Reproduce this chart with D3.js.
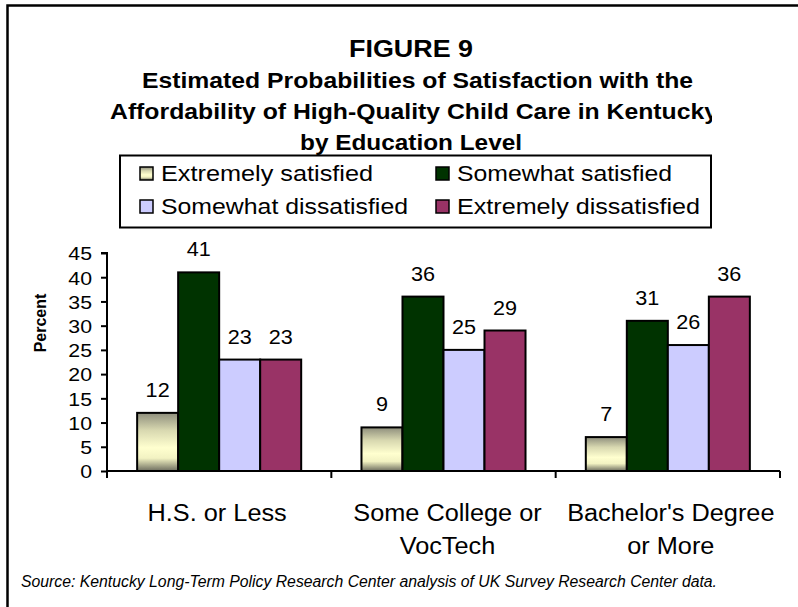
<!DOCTYPE html>
<html>
<head>
<meta charset="utf-8">
<script src="https://cdn.jsdelivr.net/npm/d3@7"></script>
<style>
  body { margin: 0; background: #fff; }
  svg { display: block; }
  text { font-family: "Liberation Sans", Arial, Helvetica, sans-serif; fill: #000; }
</style>
</head>
<body>
<svg id="chart" width="798" height="607"></svg>
<script>
// ---- data ----
const categories = ["H.S. or Less", "Some College or VocTech", "Bachelor's Degree or More"];
const categoryLines = [["H.S. or Less"], ["Some College or", "VocTech"], ["Bachelor's Degree", "or More"]];
const seriesNames = ["Extremely satisfied", "Somewhat satisfied", "Somewhat dissatisfied", "Extremely dissatisfied"];
const extremelySatisfied = [12, 9, 7];
const somewhatSatisfied = [41, 36, 31];
const somewhatDissatisfied = [23, 25, 26];
const extremelyDissatisfied = [23, 29, 36];
const yTicks = [0, 5, 10, 15, 20, 25, 30, 35, 40, 45];
const titleLines = [
  "FIGURE 9",
  "Estimated Probabilities of Satisfaction with the",
  "Affordability of High-Quality Child Care in Kentucky",
  "by Education Level"
];
const sourceNote = "Source: Kentucky Long-Term Policy Research Center analysis of UK Survey Research Center data.";

const seriesValues = [extremelySatisfied, somewhatSatisfied, somewhatDissatisfied, extremelyDissatisfied];
const seriesFill = ["url(#paleGrad)", "#003300", "#CCCCFF", "#993366"];

const svg = d3.select("#chart");
const defs = svg.append("defs");

// pale yellow bars shade to grey at top and bottom
const grad = defs.append("linearGradient").attr("id", "paleGrad")
  .attr("x1", 0).attr("y1", 0).attr("x2", 0).attr("y2", 1);
[[0, "#8e8e7c"], [0.3, "#d8d8b0"], [0.6, "#ffffcf"], [0.78, "#f2f2c2"], [1, "#6c6c5e"]]
  .forEach(([o, c]) => grad.append("stop").attr("offset", o).attr("stop-color", c));

// clip for the long title line, cut at the legend's right edge
defs.append("clipPath").attr("id", "titleClip")
  .append("rect").attr("x", 0).attr("y", 0).attr("width", 712).attr("height", 200);

// helpers: stretch a text to a given width / by a factor
function fitWidth(sel, w) {
  sel.attr("textLength", w).attr("lengthAdjust", "spacingAndGlyphs");
}
function stretch(sel, k) {
  sel.each(function () {
    const w = this.getComputedTextLength();
    d3.select(this).attr("textLength", w * k).attr("lengthAdjust", "spacingAndGlyphs");
  });
}

// ---- frame ----
svg.append("path")
  .attr("d", "M7.5,612 V5.5 H805")
  .attr("fill", "none").attr("stroke", "#000").attr("stroke-width", 2.5);

// ---- title ----
const t0 = svg.append("text").attr("x", 411).attr("y", 57).attr("text-anchor", "middle")
  .attr("font-size", 24).attr("font-weight", "bold").text(titleLines[0]);
fitWidth(t0, 124);
const t1 = svg.append("text").attr("x", 142).attr("y", 88)
  .attr("font-size", 22).attr("font-weight", "bold").text(titleLines[1]);
fitWidth(t1, 551);
const t2 = svg.append("text").attr("x", 110).attr("y", 119).attr("clip-path", "url(#titleClip)")
  .attr("font-size", 22).attr("font-weight", "bold").text(titleLines[2]);
fitWidth(t2, 608);
const t3 = svg.append("text").attr("x", 300).attr("y", 150)
  .attr("font-size", 22).attr("font-weight", "bold").text(titleLines[3]);
fitWidth(t3, 222);

// ---- scales ----
const plot = { left: 107, right: 780, top: 253, bottom: 471 };
const x0 = d3.scaleBand().domain(categories).range([plot.left, plot.right]).padding(0);
const x1 = d3.scaleBand().domain(seriesNames).range([0, x0.bandwidth()])
  .paddingInner(0).paddingOuter(0.735);
const y = d3.scaleLinear().domain([0, 45]).range([plot.bottom, plot.top]);

// ---- bars ----
const groups = svg.append("g").selectAll("g").data(categories).join("g")
  .attr("transform", d => `translate(${x0(d)},0)`);
groups.selectAll("rect")
  .data((c, ci) => seriesNames.map((s, si) => ({ s, si, v: seriesValues[si][ci] })))
  .join("rect")
  .attr("x", d => x1(d.s))
  .attr("y", d => y(d.v))
  .attr("width", x1.bandwidth())
  .attr("height", d => y(0) - y(d.v))
  .attr("fill", d => seriesFill[d.si])
  .attr("stroke", "#000").attr("stroke-width", 2);

// value labels
const vl = groups.selectAll("text.val")
  .data((c, ci) => seriesNames.map((s, si) => ({ s, si, v: seriesValues[si][ci] })))
  .join("text").attr("class", "val")
  .attr("x", d => x1(d.s) + x1.bandwidth() / 2)
  .attr("y", d => y(d.v) - 16)
  .attr("text-anchor", "middle").attr("font-size", 20)
  .text(d => d.v);
stretch(vl, 1.08);

// ---- axes ----
const yAxis = svg.append("g").attr("transform", `translate(${plot.left},0)`)
  .call(d3.axisLeft(y).tickValues(yTicks).tickSize(6).tickPadding(9));
yAxis.select(".domain").attr("stroke", "#000").attr("stroke-width", 2)
  .attr("d", `M-6,${plot.top}H0V${plot.bottom}`);
yAxis.selectAll(".tick line").attr("stroke", "#000").attr("stroke-width", 2);
yAxis.selectAll(".tick text").attr("font-size", 19).attr("font-family", "Liberation Sans, Arial, sans-serif")
  .attr("fill", "#000").attr("dy", "0.36em");
stretch(yAxis.selectAll(".tick text"), 1.12);

const xAxis = svg.append("g").attr("transform", `translate(0,${plot.bottom})`)
  .call(d3.axisBottom(x0).tickSize(0).tickFormat(""));
xAxis.select(".domain").attr("stroke", "#000").attr("stroke-width", 2)
  .attr("d", `M${plot.left},0H${plot.right}`);
xAxis.selectAll(".tick").remove();
// category separators
svg.append("g").selectAll("line")
  .data(categories.map(c => x0(c)).concat([x0(categories[categories.length - 1]) + x0.bandwidth()]))
  .join("line")
  .attr("x1", d => d).attr("x2", d => d)
  .attr("y1", plot.bottom).attr("y2", plot.bottom + 7)
  .attr("stroke", "#000").attr("stroke-width", 2);

// category labels
const catText = svg.append("g").selectAll("text").data(categories).join("text")
  .attr("x", (d, i) => x0(d) + x0.bandwidth() / 2 + [-2, 4, 3][i])
  .attr("y", 521).attr("text-anchor", "middle").attr("font-size", 23);
catText.each(function (d, i) {
  const cx = d3.select(this).attr("x");
  d3.select(this).selectAll("tspan").data(categoryLines[i]).join("tspan")
    .attr("x", cx)
    .attr("dy", (l, j) => j === 0 ? 0 : 33)
    .text(l => l);
});
catText.selectAll("tspan").each(function () {
  const w = this.getComputedTextLength();
  d3.select(this).attr("textLength", w * 1.1).attr("lengthAdjust", "spacingAndGlyphs");
});

// y axis title
svg.append("text")
  .attr("transform", "translate(46,323) rotate(-90)")
  .attr("text-anchor", "middle").attr("font-size", 16).attr("font-weight", "bold")
  .attr("fill", "#333").text("Percent");

// ---- legend ----
const legend = svg.append("g");
legend.append("rect").attr("x", 120).attr("y", 155.5).attr("width", 591).attr("height", 72)
  .attr("fill", "#fff").attr("stroke", "#000").attr("stroke-width", 2);
const legendPos = [
  { si: 0, x: 140, y: 167 }, { si: 1, x: 436, y: 167 },
  { si: 2, x: 140, y: 200 }, { si: 3, x: 436, y: 200 }
];
const legendW = [212, 215, 247, 243];
const li = legend.selectAll("g.item").data(legendPos).join("g").attr("class", "item");
li.append("rect").attr("x", d => d.x).attr("y", d => d.y).attr("width", 13).attr("height", 13)
  .attr("fill", d => seriesFill[d.si])
  .attr("stroke", "#000").attr("stroke-width", 1.5);
li.append("text").attr("x", d => d.x + 21).attr("y", d => d.y + 14)
  .attr("font-size", 22).text(d => seriesNames[d.si])
  .each(function (d) { fitWidth(d3.select(this), legendW[d.si]); });

// ---- source ----
const src = svg.append("text").attr("x", 21).attr("y", 587)
  .attr("font-size", 16).attr("font-style", "italic").text(sourceNote);
fitWidth(src, 696);
</script>
</body>
</html>
